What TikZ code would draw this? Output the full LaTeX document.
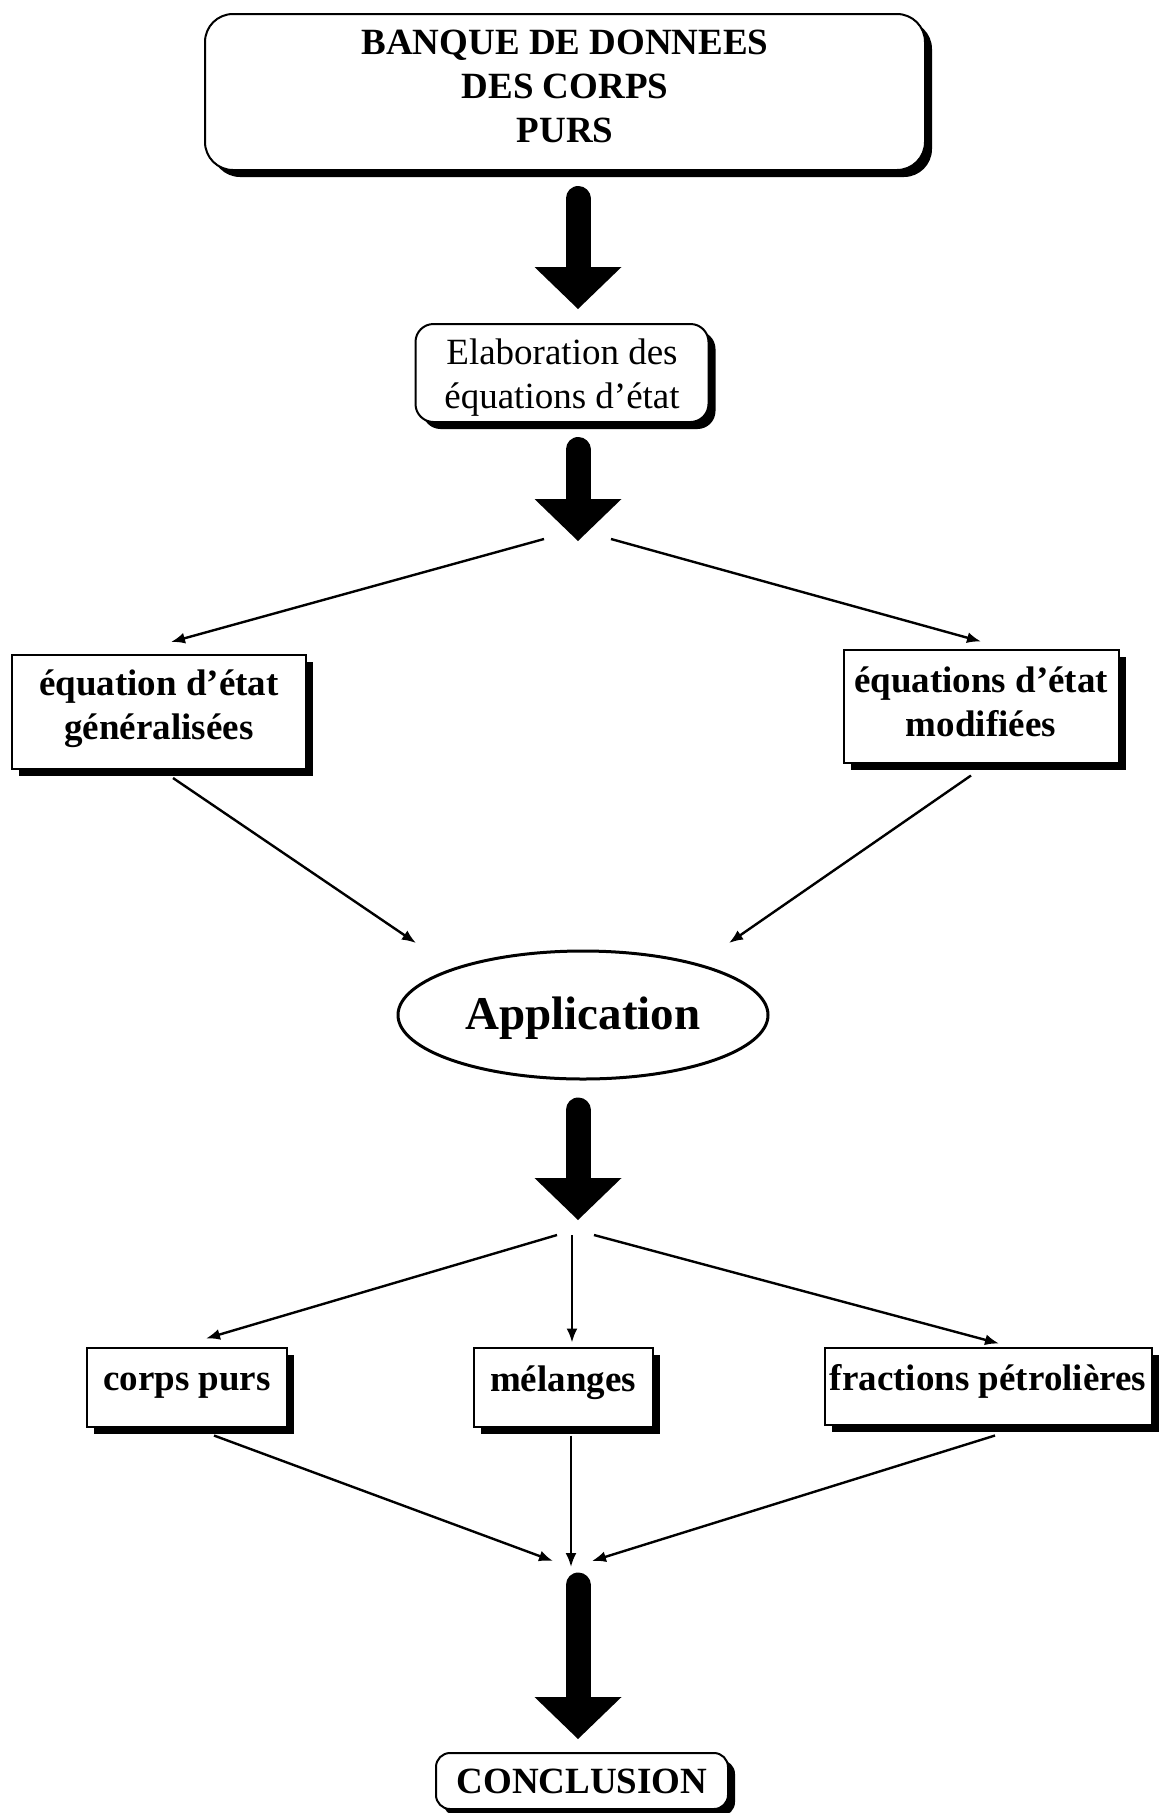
\documentclass[tikz,border=0pt]{standalone}
\usepackage{fontspec}
\setmainfont{Liberation Serif}
\usetikzlibrary{arrows.meta,shapes.geometric,shadows,calc}
\begin{document}
\begin{tikzpicture}[x=1pt,y=-1pt,
  box/.style={draw, line width=2pt, fill=white, inner sep=0pt,
    drop shadow={opacity=1, fill=black, shadow xshift=7pt, shadow yshift=-7pt}},
  rbox/.style={box, rounded corners=18pt},
  lbl/.style={align=center, inner sep=0pt, font=\fontsize{37}{44}\selectfont\bfseries},
  lblr/.style={align=center, inner sep=0pt, font=\fontsize{37}{44}\selectfont},
  thinarrow/.style={line width=2.4pt, -{Latex[length=14pt,width=11pt]}},
  bigarrow/.style={line width=25pt, line cap=round, -{Triangle[width=87pt,length=42pt,line width=0pt]}}
]
\useasboundingbox[fill=white] (0,0) rectangle (1160,1813);

% nodes
\node[rbox, rounded corners=28pt, minimum width=720pt, minimum height=156pt,
  label={[lbl,yshift=6pt]center:{BANQUE DE DONNEES\\DES CORPS\\PURS}}] (top) at (565,92) {};
\node[rbox, minimum width=293pt, minimum height=98pt,
  label={[lblr,yshift=-5pt]center:{Elaboration des\\équations d’état}}] (elab) at (562,373) {};
\node[box, minimum width=294pt, minimum height=114pt,
  label={[lbl,yshift=3.5pt]center:{équation d’état\\généralisées}}] (gen) at (159,712) {};
\node[box, minimum width=275pt, minimum height=113pt,
  label={[lbl,yshift=4.5pt]center:{équations d’état\\modifiées}}] (mod) at (981,706) {};
\node[draw, ellipse, line width=3pt, fill=white, inner sep=0pt, minimum width=370pt, minimum height=128pt,
  label={[lbl,font=\fontsize{47}{50}\selectfont\bfseries,yshift=-3.5pt]center:Application}] (app) at (583,1015) {};
\node[box, minimum width=200pt, minimum height=79pt,
  label={[lbl,yshift=1pt]center:corps purs}] (cp) at (187,1387) {};
\node[box, minimum width=179pt, minimum height=79pt,
  label={[lbl,yshift=4.5pt]center:mélanges}] (mel) at (563,1387) {};
\node[box, minimum width=327pt, minimum height=77pt,
  label={[lbl,yshift=4.5pt]center:fractions pétrolières}] (fr) at (988,1386) {};
\node[rbox, minimum width=292pt, minimum height=56pt, rounded corners=14pt,
  label={[lbl]center:CONCLUSION}] (concl) at (582,1781) {};

% junction coordinates
\coordinate (h1) at (578,541);
\coordinate (h1l) at (544,539);
\coordinate (h1r) at (611,539);
\coordinate (h2) at (578,1220);
\coordinate (h2l) at (557,1235);
\coordinate (h2m) at (572,1235);
\coordinate (h2r) at (594,1235);
\coordinate (j1) at (553,1561);
\coordinate (j2) at (571,1567);
\coordinate (j3) at (592,1561);
\coordinate (h3) at (578,1585);

% big arrows
\draw[bigarrow] ([xshift=13pt,yshift=-27.5pt]top.south) -- ([xshift=16pt,yshift=14pt]elab.north);
\draw[bigarrow] ([xshift=16pt,yshift=-26.5pt]elab.south) -- (h1);
\draw[bigarrow] ([xshift=-5pt,yshift=-29.5pt]app.south) -- (h2);
\draw[bigarrow] (h3) -- ([xshift=-4pt,yshift=13pt]concl.north);

% thin arrows
\draw[thinarrow] (h1l) -- ([xshift=12pt,yshift=12pt]gen.north);
\draw[thinarrow] (h1r) -- ([yshift=7pt]mod.north);
\draw[thinarrow] ([xshift=14pt,yshift=-8pt]gen.south) -- ([xshift=-167pt,yshift=72pt]app.center);
\draw[thinarrow] ([xshift=-10pt,yshift=-12pt]mod.south) -- ([xshift=146pt,yshift=72pt]app.center);
\draw[thinarrow] (h2l) -- ([xshift=19pt,yshift=8pt]cp.north);
\draw[thinarrow] (h2m) -- ([xshift=9pt,yshift=4pt]mel.north);
\draw[thinarrow] (h2r) -- ([xshift=11pt,yshift=3pt]fr.north);
\draw[thinarrow] ([xshift=27pt,yshift=-8pt]cp.south) -- (j1);
\draw[thinarrow] ([xshift=8pt,yshift=-8pt]mel.south) -- (j2);
\draw[thinarrow] ([xshift=7pt,yshift=-10pt]fr.south) -- (j3);
\end{tikzpicture}
\end{document}
